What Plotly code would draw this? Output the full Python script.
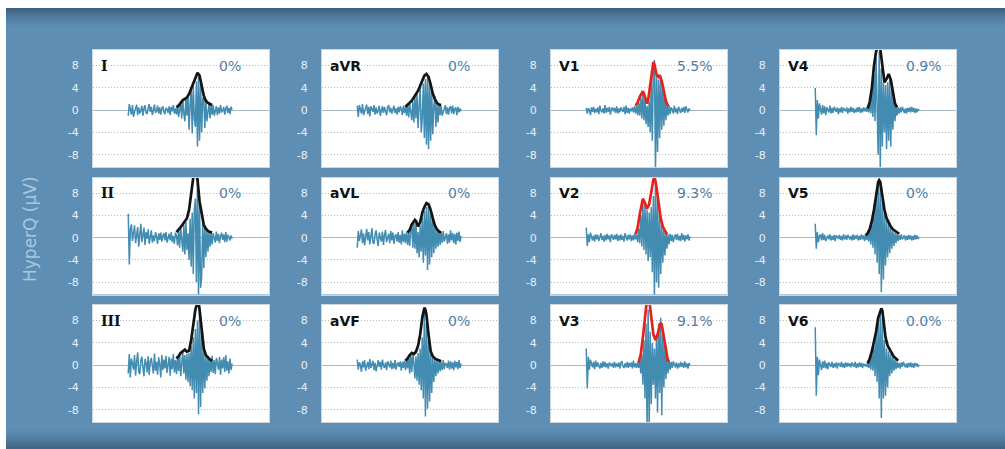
import plotly.graph_objects as go

# ---------------------------------------------------------------------------
# Data: 12-lead high-frequency QRS (HyperQ) traces, one sample index per point
# ---------------------------------------------------------------------------
leads = ["I", "aVR", "V1", "V4", "II", "aVL", "V2", "V5", "III", "aVF", "V3", "V6"]
hyperq_pct = ["0%", "0%", "5.5%", "0.9%", "0%", "0%", "9.3%", "0%", "0%", "0%", "9.1%", "0.0%"]
flagged_leads = ["V1", "V2", "V3"]

y_ticks = [8, 4, 0, -4, -8]
y_tick_labels = ["8", "4", "0", "-4", "-8"]

sig_I = [
    -1.0, 1.1, 0.2, -0.8, 0.9, -1.2, -0.3, 0.6, 1.0, -0.9,
    0.5, -0.6, -0.1, 0.8, -1.0, 0.3, 0.9, -0.5, -0.7, 0.4,
    1.1, -0.3, 0.6, -0.9, 0.1, 1.0, -0.5, -0.2, 0.8, -0.6,
    0.5, -0.8, 0.3, 0.7, -0.3, -0.7, 0.4, 0.2, -0.5, 0.7,
    -0.9, 0.6, -0.2, 0.9, -0.6, 0.3, -0.8, 1.0, -1.2, 0.4,
    1.3, -1.5, 1.8, -0.6, -2.0, 2.2, -1.0, 2.6, -3.5, 1.2,
    3.8, -4.2, 4.5, -1.5, -3.0, 5.2, -6.5, 6.0, -5.5, 4.8,
    -4.0, 2.0, 2.4, -3.2, 1.6, -2.0, -0.6, 1.2, -1.5, 1.0,
    -0.8, 0.9, -1.0, 0.2, 0.7, -0.9, 0.5, -0.6, 0.9, -0.4,
    -0.1, 0.6, -0.8, 0.3, 0.8, -0.5, 0.4, -0.7, 0.6, 0.1]
env_I_x = [46, 48, 50, 52, 54, 56, 58, 60, 62, 64, 66, 68, 70, 72, 74, 76, 78, 80]
env_I_y = [0.5, 0.8, 1.3, 1.8, 2.0, 2.3, 2.9, 3.9, 5.0, 6.0, 6.7, 6.2, 4.5, 2.6, 1.7, 1.3, 1.1, 0.9]

sig_aVR = [
    0.8, -1.2, 0.9, 0.1, -0.6, 1.1, -0.9, -0.2, 0.4, 1.0,
    -0.7, 0.6, -1.1, 0.7, 0.2, -0.3, 0.9, -0.8, 0.5, -0.6,
    -0.1, 0.8, -1.0, 0.3, 0.7, -0.5, 0.6, -0.2, -0.9, 0.6,
    0.9, -0.4, 0.4, -0.6, 0.1, 0.8, -0.5, 0.3, -0.8, 0.6,
    -0.4, 0.7, 0.2, -0.9, 0.8, -0.5, 0.7, -1.0, 0.9, -1.3,
    1.2, -0.4, -1.8, 1.6, -2.2, 2.4, -1.5, 3.0, -3.2, 0.8,
    4.0, -4.0, -1.5, 4.8, -5.0, 5.6, -6.2, 6.2, -7.0, 5.0,
    -5.5, 3.6, -4.3, 0.8, 2.5, -3.0, 1.2, -2.2, 1.0, -0.9,
    0.8, -1.0, -0.2, 0.6, 0.9, -0.7, 0.5, -0.8, 0.4, 0.7,
    -0.6, 0.8, -0.7, 0.2, 0.5, -0.9, 0.6, -0.4, 0.3, -0.2]
env_aVR_x = [46, 48, 50, 52, 54, 56, 58, 60, 62, 64, 66, 68, 70, 72, 74, 76, 78, 80]
env_aVR_y = [0.6, 1.0, 1.3, 1.7, 2.3, 2.8, 3.5, 4.4, 5.4, 6.2, 6.5, 6.0, 4.6, 3.0, 2.0, 1.3, 1.0, 0.9]

sig_II = [
    4.3, -4.8, 1.5, 2.4, -0.6, 1.2, 2.2, -1.0, 0.8, 1.9,
    -1.6, 1.4, 2.5, -0.8, 0.4, 1.8, -1.3, 1.0, -0.2, 1.5,
    -1.1, 0.7, 1.3, -0.9, 0.4, -0.6, 1.0, 0.2, -1.1, 0.8,
    -0.4, 0.9, -0.7, 0.3, 0.8, -0.5, 1.0, -0.9, 0.2, 0.7,
    -0.5, 1.0, -0.8, 0.3, -1.1, 0.9, 0.4, -1.4, 1.3, -1.8,
    1.8, -0.5, -2.5, 2.3, -3.0, 2.8, -2.2, 0.8, -4.0, 3.4,
    -5.2, 4.5, -6.5, 5.0, 7.0, -8.0, 10.5, -10.5, 6.0, -9.0,
    -7.0, 3.0, -5.5, 2.2, -3.5, 1.5, -2.5, 1.1, -1.6, 0.9,
    -1.2, 0.8, 0.1, -0.9, 1.1, -0.6, 0.7, -1.0, 0.3, 0.9,
    -0.4, 0.6, -0.8, 1.0, -0.7, 0.5, 0.1, -0.5, 0.4, -0.2]
env_II_x = [46, 48, 50, 52, 54, 56, 58, 60, 62, 64, 66, 68, 70, 72, 74, 76, 78, 80]
env_II_y = [1.0, 1.4, 1.9, 2.4, 2.9, 3.5, 5.0, 8.5, 10.8, 11.5, 10.5, 6.5, 4.0, 2.3, 1.6, 1.2, 1.0, 0.9]

sig_III = [
    -1.5, 2.0, -2.2, 1.2, 0.3, -0.8, 1.8, -1.9, 0.6, 2.3,
    -1.2, -1.6, 0.9, 1.5, -0.5, -2.0, 1.1, 0.4, -1.3, 1.6,
    -1.8, 0.7, 1.3, -0.7, -1.5, 2.1, -1.0, 0.6, -1.7, 1.4,
    0.2, -2.2, 1.8, -0.9, 1.0, -0.6, 1.7, -1.4, -0.3, 1.5,
    -1.9, 1.2, -0.7, 2.0, -1.3, 0.9, -1.6, 1.6, -1.1, 2.2,
    -2.0, 0.5, 2.5, -1.5, 1.8, -2.6, 2.0, -3.0, 2.2, -3.8,
    3.5, -4.5, 5.0, -6.0, 6.5, -5.0, 8.0, -8.8, 10.0, -7.5,
    6.0, -5.0, 3.0, -4.2, 1.8, -2.8, 1.6, -2.0, 1.2, -1.2,
    1.7, -1.4, 0.9, -1.6, 1.3, 0.4, -0.8, 1.5, -1.7, 1.0,
    -0.6, 1.4, -1.2, 1.8, -1.0, 0.7, -1.5, 1.2, -0.9, 0.3]
env_III_x = [46, 48, 50, 52, 54, 56, 58, 60, 62, 64, 66, 67, 68, 70, 72, 74, 76, 78, 80]
env_III_y = [1.2, 1.6, 2.2, 2.5, 2.8, 2.4, 2.6, 4.5, 7.5, 10.0, 11.2, 11.5, 10.0, 6.0, 3.0, 1.8, 1.3, 1.0, 0.8]

sig_aVL = [
    -1.8, 1.2, -0.6, 0.3, 1.5, -1.0, 0.8, -1.4, -0.2, 1.6,
    -0.5, 1.0, -1.2, 0.4, 1.7, -0.9, -1.1, 0.6, 1.3, -0.4,
    -1.5, 0.9, 0.2, -0.7, 1.1, -1.3, 0.5, 1.4, -0.8, -0.1,
    0.7, -1.0, 1.2, -0.5, 0.9, -1.1, 0.3, 0.6, -0.7, 1.0,
    -0.9, 0.5, -1.2, 1.3, -0.8, 0.7, -1.0, 1.1, -1.3, 0.9,
    -1.5, 1.4, 2.4, -1.8, 3.0, -2.0, 2.6, -2.8, 1.0, -3.5,
    2.2, -2.5, 3.6, -4.5, 4.8, -3.2, 5.5, -5.8, 6.0, -4.8,
    5.0, -3.5, 3.5, -2.8, 2.0, -2.0, 1.4, -1.6, 1.2, -1.3,
    1.0, -0.9, 1.2, -0.7, 0.3, 0.8, -1.1, 0.6, -0.9, 1.3,
    -0.5, 0.8, -1.0, 0.7, -1.2, 0.9, -0.6, 1.1, -0.8, 0.3]
env_aVL_x = [48, 50, 52, 54, 55, 56, 58, 60, 62, 64, 66, 68, 70, 72, 74, 76, 78, 80]
env_aVL_y = [0.9, 1.4, 2.4, 3.0, 3.2, 3.0, 2.0, 2.8, 4.5, 5.5, 6.2, 6.0, 5.0, 3.5, 2.2, 1.5, 1.1, 0.9]

sig_aVF = [
    1.0, -0.8, 0.5, 0.1, -1.2, 0.7, -0.4, 0.9, -1.0, -0.2,
    0.6, -0.7, 1.1, -0.5, 0.3, 0.8, -0.9, 0.4, -1.1, 0.2,
    0.9, -0.3, 0.6, -0.8, 1.0, -0.1, -0.5, 0.5, -0.9, 0.7,
    0.3, -0.4, 0.8, -0.7, 0.4, -0.6, 0.9, -0.8, 0.2, 0.5,
    -0.3, 0.7, -1.0, 0.6, -0.5, 0.8, -0.9, 1.0, -0.6, 1.4,
    -1.5, 1.8, -1.2, 2.0, 0.4, -2.4, 1.6, -2.8, 2.2, -3.5,
    3.0, -4.5, 5.0, -6.0, 9.5, -9.2, 7.5, -7.8, 4.5, -6.5,
    2.5, -5.0, 1.6, -3.0, 1.2, -2.0, 1.0, -1.5, 0.8, -1.1,
    0.6, -0.9, 0.9, -0.7, 0.4, 0.2, -0.5, 0.8, -0.8, 0.7,
    -0.6, 0.5, -0.9, 0.8, -0.4, 0.6, -0.7, 0.9, -0.5, 0.3]
env_aVF_x = [46, 48, 50, 52, 54, 56, 58, 60, 62, 63, 64, 65, 66, 68, 70, 72, 74, 76, 78, 80]
env_aVF_y = [0.8, 1.2, 1.8, 2.2, 2.0, 2.4, 3.5, 5.5, 8.5, 9.8, 10.3, 10.0, 9.0, 5.5, 2.5, 1.6, 1.2, 1.0, 0.8, 0.7]

sig_V1 = [
    0.4, -0.6, 0.3, 0.1, -0.9, 0.5, -0.3, 0.6, -0.5, 0.2,
    -0.4, 0.5, -0.7, 0.8, -0.1, -0.4, 0.3, -0.6, 0.9, -0.5,
    0.4, -0.3, 0.6, -0.8, 0.2, 0.5, -0.2, 0.4, -0.5, 0.7,
    -0.6, 0.3, -0.4, 0.5, 0.1, -0.3, 0.6, -0.7, 0.8, -0.5,
    0.4, -0.6, 0.3, -0.2, 0.5, -0.4, 0.7, -0.6, 0.8, -0.9,
    1.3, -1.0, 2.3, -1.5, 3.2, -1.8, 2.2, -2.5, 0.8, -3.0,
    1.6, -4.0, 5.0, -5.5, 8.0, 9.0, -11.0, 6.2, -7.5, 5.5,
    -5.0, 6.0, -3.5, 4.5, -2.8, 2.8, -1.8, 1.5, -1.0, 0.9,
    -0.7, 0.5, 0.1, -0.6, 0.8, -0.4, 0.3, -0.7, 0.6, -0.2,
    -0.5, 0.4, -0.3, 0.6, -0.5, 0.7, 0.2, -0.4, 0.3, -0.1]
env_V1_x = [47, 49, 51, 53, 54, 55, 57, 58, 59, 61, 63, 64, 65, 67, 69, 70, 72, 74, 76, 78]
env_V1_y = [0.8, 1.4, 2.4, 3.2, 3.4, 3.0, 1.5, 1.2, 1.8, 4.5, 7.8, 8.6, 8.2, 6.4, 6.0, 6.3, 5.2, 3.2, 1.6, 0.8]

sig_V2 = [
    1.8, -1.5, 0.6, -0.8, 0.9, 0.2, -0.5, 0.4, -0.7, 0.6,
    -0.3, 0.5, -0.6, 0.1, 0.8, -0.4, 0.3, -0.7, 0.5, -0.5,
    0.7, -0.3, 0.4, -0.8, 0.6, 0.2, -0.4, 0.5, -0.3, 0.7,
    -0.6, 0.4, -0.5, 0.6, -0.4, 0.3, -0.7, 0.8, 0.1, -0.5,
    0.5, -0.3, 0.6, -0.6, 0.4, -0.5, 0.7, -0.3, 0.5, -0.8,
    1.6, -1.0, 4.0, -1.6, 6.2, -2.2, 5.8, -3.0, 5.0, -4.2,
    4.5, -3.5, 5.5, -6.2, 7.5, -10.8, 10.0, -8.0, 7.0, -9.0,
    4.5, -6.5, 2.5, -4.5, 1.5, -3.2, 1.0, -2.0, 0.6, -1.2,
    0.7, -0.6, 0.5, -0.8, 0.1, 0.6, -0.4, 0.7, -0.5, 0.3,
    -0.6, 0.8, -0.4, 0.5, -0.7, 0.4, -0.3, 0.6, -0.5, 0.2]
env_V2_x = [47, 49, 51, 53, 54, 56, 58, 60, 62, 64, 65, 66, 67, 69, 71, 73, 75, 77]
env_V2_y = [0.6, 1.8, 4.2, 6.5, 7.0, 6.2, 5.2, 6.0, 8.5, 10.4, 10.8, 10.2, 9.0, 6.0, 3.5, 2.0, 1.2, 0.6]

sig_V3 = [
    3.0, -4.2, 1.5, -0.8, 1.0, 0.2, -0.4, 0.6, -0.7, 0.8,
    -0.3, 0.5, 0.1, -0.6, 0.4, -0.5, 0.7, -0.3, 0.6, -0.4,
    0.3, -0.6, 0.5, 0.2, -0.2, 0.4, -0.5, 0.6, -0.4, 0.3,
    -0.3, 0.5, -0.6, 0.4, 0.7, -0.2, -0.5, 0.3, -0.4, 0.6,
    -0.5, 0.4, -0.3, 0.5, -0.6, 0.8, -0.4, 0.3, -0.5, 0.6,
    -0.5, 1.0, -1.5, 2.0, -3.5, 4.5, -6.0, 7.5, -11.5, 10.0,
    -11.5, 6.0, -7.0, 4.0, -3.5, 3.0, -6.0, 5.5, -8.5, 7.5,
    -5.0, 8.5, -9.0, 6.5, -4.0, 3.5, -2.5, 1.8, -1.5, 1.0,
    -0.8, 0.6, -0.5, 0.7, 0.1, -0.4, 0.5, -0.6, 0.3, -0.4,
    0.6, -0.3, 0.4, -0.5, 0.7, -0.4, 0.3, -0.6, 0.4, -0.1]
env_V3_x = [50, 52, 54, 56, 57, 58, 60, 61, 62, 64, 66, 68, 70, 71, 72, 74, 76, 78]
env_V3_y = [0.5, 2.0, 5.0, 9.0, 11.0, 12.0, 11.8, 10.0, 8.5, 5.5, 4.5, 5.5, 7.0, 7.6, 7.3, 5.0, 2.4, 0.6]

sig_V4 = [
    4.0, -4.5, 1.8, -1.5, 1.2, 0.3, -0.8, 0.9, -0.6, 0.7,
    -0.9, 0.5, 0.1, -0.4, 0.8, -0.6, 0.4, -0.5, 0.6, 0.2,
    -0.3, 0.5, -0.7, 0.3, -0.4, 0.6, -0.5, 0.4, 0.1, -0.2,
    0.5, -0.6, 0.3, -0.4, 0.6, -0.3, 0.4, -0.5, 0.2, -0.4,
    0.5, -0.3, 0.6, -0.5, 0.3, -0.4, 0.5, -0.2, 0.4, -0.3,
    0.6, -0.4, 1.2, -0.6, 3.5, -1.2, 6.5, -2.0, 9.5, -3.0,
    -8.0, 10.5, -10.8, 7.5, -6.5, 5.0, -4.0, 4.5, -7.0, 5.0,
    -5.5, 6.0, -6.5, 4.0, -3.5, 2.0, -2.0, 0.8, -1.0, 0.5,
    -0.6, 0.5, -0.4, 0.6, 0.1, -0.5, 0.3, -0.6, 0.4, -0.3,
    0.5, -0.4, 0.6, -0.3, 0.4, -0.5, 0.3, -0.4, 0.2, -0.1]
env_V4_x = [50, 52, 54, 56, 58, 60, 62, 64, 66, 68, 70, 72, 74, 76, 78]
env_V4_y = [0.3, 1.5, 4.0, 8.0, 10.5, 11.5, 11.0, 7.5, 5.0, 5.6, 6.5, 5.5, 3.0, 1.2, 0.5]

sig_V5 = [
    2.5, -2.0, 1.0, -0.8, 0.2, 0.6, -0.5, 0.8, -0.4, 0.5,
    -0.6, 0.1, 0.4, -0.3, 0.6, -0.5, 0.3, -0.4, 0.5, -0.6,
    0.4, 0.2, -0.2, 0.5, -0.4, 0.3, -0.5, 0.6, -0.3, 0.4,
    -0.4, 0.5, 0.1, -0.3, 0.3, -0.5, 0.6, -0.4, 0.4, -0.2,
    0.5, -0.5, 0.3, -0.4, 0.6, -0.3, 0.4, -0.6, 0.5, -0.4,
    0.7, -0.7, 1.5, -1.2, 2.8, -1.8, 4.8, -3.0, 7.5, -4.5,
    9.5, -6.5, 9.8, -9.8, 7.0, -7.5, 4.5, -5.0, 3.3, -3.5,
    2.5, -2.8, 1.8, -2.0, 1.2, -1.5, 0.9, -1.0, 0.7, -0.6,
    0.5, -0.4, 0.6, -0.3, 0.1, 0.4, -0.5, 0.3, -0.4, 0.5,
    -0.3, 0.4, -0.5, 0.3, -0.4, 0.5, -0.3, 0.4, -0.2, 0.1]
env_V5_x = [48, 50, 52, 54, 56, 58, 60, 61, 62, 64, 66, 68, 70, 72, 74, 76, 78, 80]
env_V5_y = [0.4, 0.8, 1.6, 3.0, 5.0, 7.8, 10.0, 10.3, 10.0, 7.5, 5.0, 3.5, 2.6, 2.0, 1.5, 1.2, 0.9, 0.7]

sig_V6 = [
    6.8, -5.5, 1.5, -1.8, 1.0, 0.2, -0.9, 0.7, -0.5, 0.8,
    -0.6, 0.4, -0.7, 0.5, 0.1, -0.3, 0.6, -0.5, 0.3, -0.4,
    0.5, -0.6, 0.4, 0.2, -0.3, 0.6, -0.4, 0.3, -0.5, 0.5,
    -0.3, 0.4, -0.2, 0.3, -0.4, 0.5, 0.1, -0.3, 0.6, -0.5,
    0.3, -0.4, 0.5, -0.3, 0.4, -0.5, 0.3, -0.2, 0.2, -0.3,
    0.3, -0.5, 1.0, -0.8, 2.2, -1.0, 3.5, -2.0, 5.5, -3.0,
    7.5, -6.0, 9.5, -9.5, 8.5, -6.0, 4.5, -5.5, 3.0, -4.0,
    2.5, -2.0, 2.0, -1.5, 1.4, -1.0, 1.0, -0.7, 0.6, -0.5,
    0.4, -0.6, 0.5, -0.3, 0.6, 0.1, -0.4, 0.3, -0.5, 0.4,
    -0.3, 0.5, -0.4, 0.3, -0.5, 0.4, -0.2, 0.3, -0.3, 0.1]
env_V6_x = [50, 52, 54, 56, 58, 60, 62, 63, 64, 65, 67, 69, 71, 73, 75, 77, 79]
env_V6_y = [0.3, 1.2, 2.5, 4.0, 6.0, 8.5, 10.0, 10.2, 9.8, 8.5, 5.0, 3.5, 2.8, 2.0, 1.5, 1.2, 0.8]

signals = {
    "I": sig_I, "aVR": sig_aVR, "V1": sig_V1, "V4": sig_V4,
    "II": sig_II, "aVL": sig_aVL, "V2": sig_V2, "V5": sig_V5,
    "III": sig_III, "aVF": sig_aVF, "V3": sig_V3, "V6": sig_V6,
}
envelopes = {
    "I": (env_I_x, env_I_y), "aVR": (env_aVR_x, env_aVR_y),
    "V1": (env_V1_x, env_V1_y), "V4": (env_V4_x, env_V4_y),
    "II": (env_II_x, env_II_y), "aVL": (env_aVL_x, env_aVL_y),
    "V2": (env_V2_x, env_V2_y), "V5": (env_V5_x, env_V5_y),
    "III": (env_III_x, env_III_y), "aVF": (env_aVF_x, env_aVF_y),
    "V3": (env_V3_x, env_V3_y), "V6": (env_V6_x, env_V6_y),
}

# ---------------------------------------------------------------------------
# Styling / geometry (pixels)
# ---------------------------------------------------------------------------
W, H = 1005, 449
BOX_W, BOX_H = 176, 117
COL_LEFT, COL_STEP = 93, 229
ROW_TOP, ROW_STEP = 50, 127.5
X_RANGE = [-33.6, 134.2]
Y_RANGE = [-10.2, 10.8]

PANEL_BG = "#5f8eb5"
SIGNAL_COLOR = "#438cb1"
ENV_NORMAL = "#141414"
ENV_FLAGGED = "#e5231d"
PCT_COLOR = "#4f7ea8"
TICK_COLOR = "#e8f0f6"
FONT = "Verdana, 'DejaVu Sans', sans-serif"


def px_x(p):
    return p / W


def px_y(p):
    return 1 - p / H


fig = go.Figure()
layout_axes = {}
annotations = []

for k, lead in enumerate(leads):
    row, col = divmod(k, 4)
    n = k + 1
    suffix = "" if n == 1 else str(n)
    xa, ya = "x" + suffix, "y" + suffix
    samples = list(range(len(signals[lead])))

    fig.add_trace(go.Scatter(
        x=samples, y=signals[lead], xaxis=xa, yaxis=ya, mode="lines",
        line=dict(color=SIGNAL_COLOR, width=1.5), hoverinfo="skip"))
    ex, ey = envelopes[lead]
    fig.add_trace(go.Scatter(
        x=ex, y=ey, xaxis=xa, yaxis=ya, mode="lines",
        line=dict(color=ENV_FLAGGED if lead in flagged_leads else ENV_NORMAL, width=2.7),
        hoverinfo="skip"))

    left = COL_LEFT + COL_STEP * col
    top = ROW_TOP + ROW_STEP * row
    layout_axes["xaxis" + suffix] = dict(
        domain=[px_x(left), px_x(left + BOX_W)], range=X_RANGE, anchor=ya,
        showticklabels=False, ticks="", showgrid=False, zeroline=False,
        showline=True, mirror=True, linecolor="#cfd7de", linewidth=1, fixedrange=True)
    layout_axes["yaxis" + suffix] = dict(
        domain=[px_y(top + BOX_H), px_y(top)], range=Y_RANGE, anchor=xa,
        tickmode="array", tickvals=y_ticks, ticktext=y_tick_labels, ticks="",
        ticklabelstandoff=11,
        tickfont=dict(family=FONT, size=11, color=TICK_COLOR),
        showgrid=True, gridcolor="#b9b9b9", griddash="1px,2px", gridwidth=1,
        zeroline=True, zerolinecolor="#a9bac6", zerolinewidth=1,
        showline=True, mirror=True, linecolor="#cfd7de", linewidth=1, fixedrange=True)

    roman = all(ch == "I" for ch in lead)
    annotations.append(dict(
        xref=xa + " domain", yref=ya, x=0.035, y=8, xanchor="left", yanchor="middle",
        text="<b>%s</b>" % lead, showarrow=False,
        font=dict(family="'DejaVu Serif', serif" if roman else FONT, size=14, color="#111111")))
    annotations.append(dict(
        xref=xa + " domain", yref=ya, x=0.705, y=8, xanchor="left", yanchor="middle",
        text=hyperq_pct[k], showarrow=False,
        font=dict(family=FONT, size=14, color=PCT_COLOR)))

annotations.append(dict(
    xref="paper", yref="paper", x=px_x(30), y=px_y(229), xanchor="center", yanchor="middle",
    text="HyperQ (µV)", textangle=-90, showarrow=False,
    font=dict(family=FONT, size=17, color="#a9c8e0")))

# Frame: white margin strips and darker shaded bands at top and bottom
shapes = [
    dict(type="rect", xref="paper", yref="paper", x0=0, x1=1, y0=px_y(8), y1=1,
         fillcolor="white", line_width=0, layer="above"),
    dict(type="rect", xref="paper", yref="paper", x0=0, x1=px_x(6), y0=0, y1=1,
         fillcolor="white", line_width=0, layer="above"),
]
for i in range(10):
    shapes.append(dict(
        type="rect", xref="paper", yref="paper", x0=px_x(6), x1=1,
        y0=px_y(8 + 2 * (i + 1)), y1=px_y(8 + 2 * i),
        fillcolor="rgba(20,35,55,%.3f)" % (0.42 * (1 - i / 10) ** 1.6),
        line_width=0, layer="above"))
for i in range(10):
    shapes.append(dict(
        type="rect", xref="paper", yref="paper", x0=px_x(6), x1=1,
        y0=px_y(449 - 2 * i), y1=px_y(449 - 2 * (i + 1)),
        fillcolor="rgba(20,35,55,%.3f)" % (0.38 * (1 - i / 10) ** 1.4),
        line_width=0, layer="above"))

fig.update_layout(
    width=W, height=H, margin=dict(l=0, r=0, t=0, b=0),
    paper_bgcolor=PANEL_BG, plot_bgcolor="white",
    showlegend=False, annotations=annotations, shapes=shapes,
    **layout_axes)

fig.write_html("out.html", config={"displayModeBar": False})
